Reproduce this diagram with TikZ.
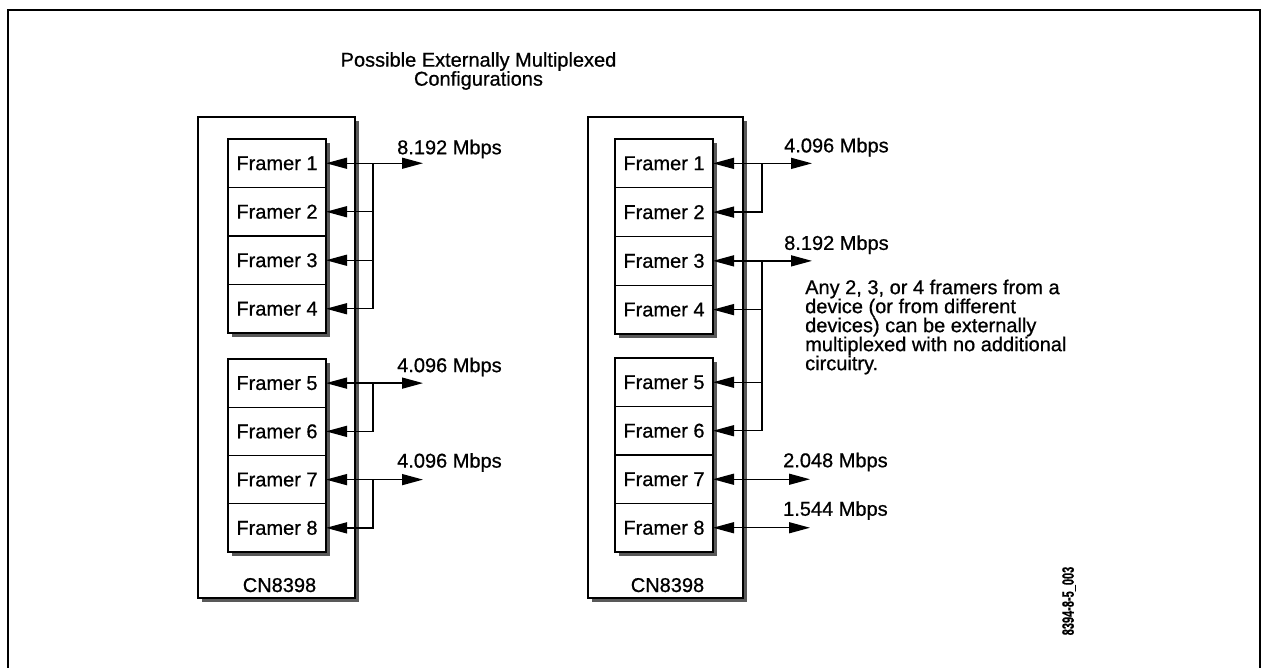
\documentclass[tikz,border=0pt]{standalone}
\usepackage{fontspec}
\setmainfont{Liberation Sans}[FakeBold=0.7]
\usetikzlibrary{
  arrows.meta,
  calc,
  positioning,
  shadows,
}
\tikzstyle{chip} = [
  rectangle,
  draw,
  line width=2.8pt,
  fill=white,
  inner sep=0,
  outer sep=0,
  general shadow={fill=black!65, shadow xshift=4pt, shadow yshift=-4pt},
]
\tikzstyle{framer} = [rectangle,draw,line width=1.2pt,minimum width=98,minimum height=48.5,inner sep=0,outer sep=0]
\tikzstyle{link} = [line width=1.4pt]
\tikzstyle{into} = [link, -{Triangle[length=21pt,width=11pt]}]
\tikzstyle{both} = [link, {Triangle[length=21pt,width=11pt]}-{Triangle[length=21pt,width=11pt]}]
\tikzstyle{rate} = [anchor=base west, inner sep=0]

\begin{document}
\begin{tikzpicture}[x=1pt,y=-1pt,node distance=0pt and 0pt,font=\fontsize{20}{19}\selectfont]
      \useasboundingbox (0,0) rectangle (1262,668);
      \draw[line width=2pt] (8,668) -- (8,10) -- (1260,10) -- (1260,668);

      \node[align=center] (title) at (478.5,71) {Possible Externally Multiplexed\\Configurations};

      % left device
      \node[chip,minimum width=157,minimum height=481,anchor=north west] (dev1) at (198,117) {};
      \node[chip,minimum width=98,minimum height=194,anchor=north west] (grp1) at ($(dev1.north west)+(30,22)$) {};
      \node[chip,minimum width=98,minimum height=193,below=26pt of grp1] (grp2) {};

      \node[framer,below=0pt of grp1.north] (a1) {Framer 1};
      \node[framer] (a2) [below=of a1] {Framer 2};
      \node[framer] (a3) [below=of a2] {Framer 3};
      \node[framer] (a4) [below=of a3] {Framer 4};

      \node[framer,minimum height=48.25,below=0pt of grp2.north] (a5) {Framer 5};
      \node[framer,minimum height=48.25] (a6) [below=of a5] {Framer 6};
      \node[framer,minimum height=48.25] (a7) [below=of a6] {Framer 7};
      \node[framer,minimum height=48.25] (a8) [below=of a7] {Framer 8};

      \node[anchor=base] (cn1) at ($(dev1.south)+(3,-6)$) {CN8398};

      \coordinate (o1) at ($(a1.east)+(97,0)$);
      \coordinate (b1) at ($(a1.east)+(47,0)$);
      \coordinate (o5) at ($(a5.east)+(97,0)$);
      \coordinate (b5) at ($(a5.east)+(47,0)$);
      \coordinate (o7) at ($(a7.east)+(97,0)$);
      \coordinate (b7) at ($(a7.east)+(47,0)$);

      \draw[both] (a1.east) -- (o1);
      \draw[into] (b1) |- (a4.east);
      \draw[into] (b1 |- a2.east) -- (a2.east);
      \draw[into] (b1 |- a3.east) -- (a3.east);

      \draw[both] (a5.east) -- (o5);
      \draw[into] (b5) |- (a6.east);

      \draw[both] (a7.east) -- (o7);
      \draw[into] (b7) |- (a8.east);

      \node[rate] (r1) at ($(o1)+(-26,-9)$) {8.192 Mbps};
      \node[rate] (r5) at ($(o5)+(-26,-11)$) {4.096 Mbps};
      \node[rate] (r7) at ($(o7)+(-26,-12)$) {4.096 Mbps};

      % right device
      \node[chip,minimum width=155,minimum height=481,right=233pt of dev1] (dev2) {};
      \node[chip,minimum width=98,minimum height=195,anchor=north west] (grp3) at ($(dev2.north west)+(27,22)$) {};
      \node[chip,minimum width=98,minimum height=194,below=24pt of grp3] (grp4) {};

      \node[framer,minimum height=48.75,below=0pt of grp3.north] (c1) {Framer 1};
      \node[framer,minimum height=48.75] (c2) [below=of c1] {Framer 2};
      \node[framer,minimum height=48.75] (c3) [below=of c2] {Framer 3};
      \node[framer,minimum height=48.75] (c4) [below=of c3] {Framer 4};

      \node[framer,below=0pt of grp4.north] (c5) {Framer 5};
      \node[framer] (c6) [below=of c5] {Framer 6};
      \node[framer] (c7) [below=of c6] {Framer 7};
      \node[framer] (c8) [below=of c7] {Framer 8};

      \node[anchor=base] (cn2) at ($(dev2.south)+(2,-6)$) {CN8398};

      \coordinate (p1) at ($(c1.east)+(99,0)$);
      \coordinate (d1) at ($(c1.east)+(49,0)$);
      \coordinate (p3) at ($(c3.east)+(99,0)$);
      \coordinate (d3) at ($(c3.east)+(49,0)$);
      \coordinate (p7) at ($(c7.east)+(97,0)$);
      \coordinate (p8) at ($(c8.east)+(97,0)$);

      \draw[both] (c1.east) -- (p1);
      \draw[into] (d1) |- (c2.east);

      \draw[both] (c3.east) -- (p3);
      \draw[into] (d3) |- (c6.east);
      \draw[into] (d3 |- c4.east) -- (c4.east);
      \draw[into] (d3 |- c5.east) -- (c5.east);

      \draw[both] (c7.east) -- (p7);
      \draw[both] (c8.east) -- (p8);

      \node[rate] (s1) at ($(p1)+(-28,-11)$) {4.096 Mbps};
      \node[rate] (s3) at ($(p3)+(-28,-11)$) {8.192 Mbps};
      \node[rate] (s7) at ($(p7)+(-27,-12)$) {2.048 Mbps};
      \node[rate] (s8) at ($(p8)+(-27,-12)$) {1.544 Mbps};

      \node[align=left,anchor=north west,inner sep=0] (note) at (805,279.5) {Any 2, 3, or 4 framers from a\\device (or from different\\devices) can be externally\\multiplexed with no additional\\circuitry.};

      \node[rotate=90,font=\fontsize{11}{11}\selectfont\bfseries] (tag) at (1069,601) {\scalebox{1}[1.5]{8394-8-5\_003}};

    \end{tikzpicture}
\end{document}
